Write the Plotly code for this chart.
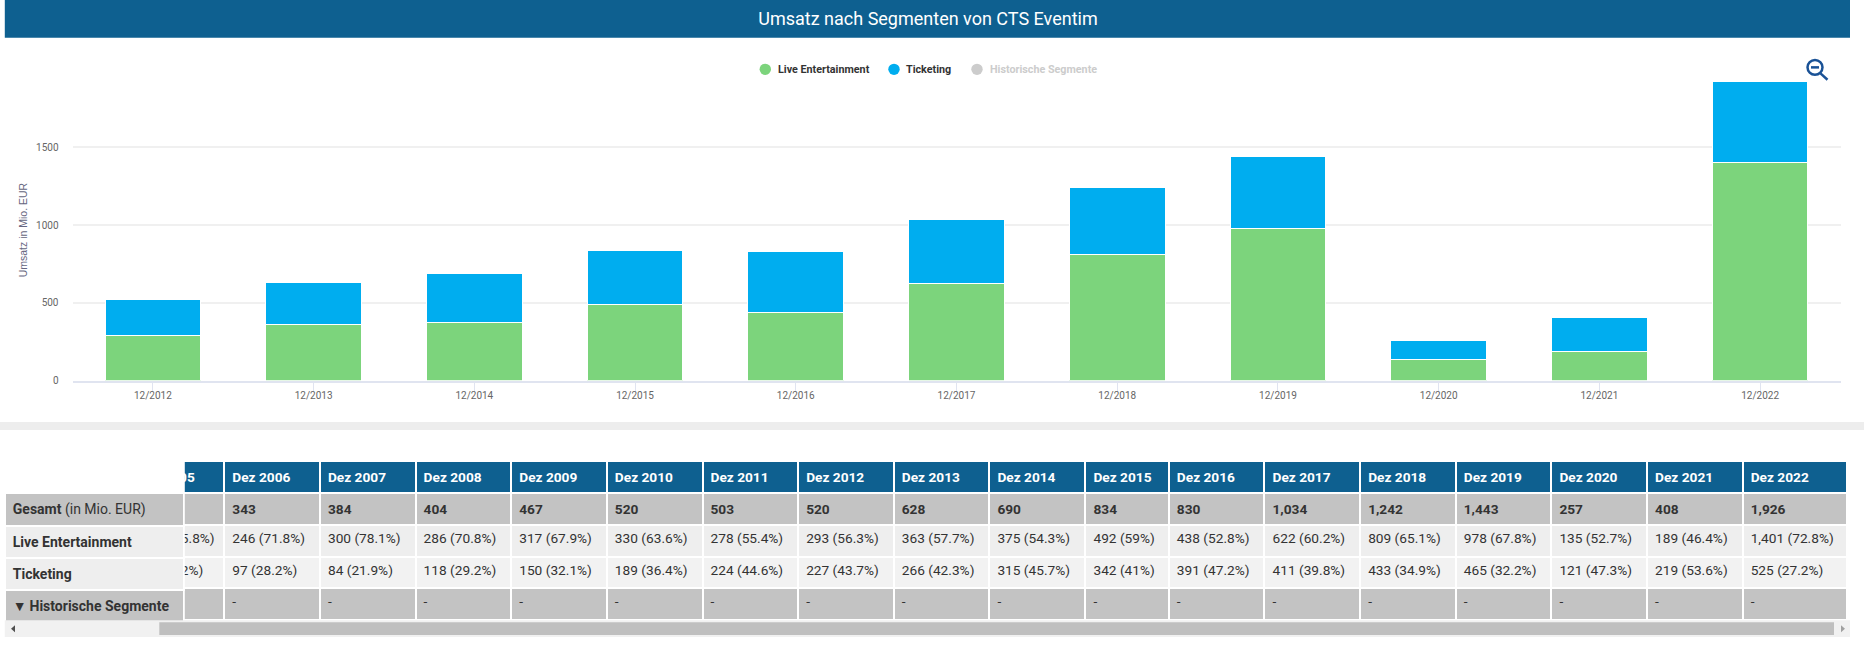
import plotly.graph_objects as go

W, H = 1864, 652

# ---- chart data
periods = ["12/2012", "12/2013", "12/2014", "12/2015", "12/2016", "12/2017",
           "12/2018", "12/2019", "12/2020", "12/2021", "12/2022"]
live_chart = [293, 363, 375, 492, 438, 622, 809, 978, 135, 189, 1401]
ticketing_chart = [227, 266, 315, 342, 391, 411, 433, 465, 121, 219, 525]
y_ticks = [0, 500, 1000, 1500]

# ---- table data (the 2005 column is scrolled mostly out of sight behind the label column)
table_years = ["Dez 2005", "Dez 2006", "Dez 2007", "Dez 2008", "Dez 2009", "Dez 2010", "Dez 2011",
               "Dez 2012", "Dez 2013", "Dez 2014", "Dez 2015", "Dez 2016", "Dez 2017",
               "Dez 2018", "Dez 2019", "Dez 2020", "Dez 2021", "Dez 2022"]
table_total = ["", "343", "384", "404", "467", "520", "503", "520", "628", "690", "834",
               "830", "1,034", "1,242", "1,443", "257", "408", "1,926"]
table_live = ["\u00a0" * 13 + "5.8%)", "246 (71.8%)", "300 (78.1%)", "286 (70.8%)", "317 (67.9%)", "330 (63.6%)",
              "278 (55.4%)", "293 (56.3%)", "363 (57.7%)", "375 (54.3%)", "492 (59%)",
              "438 (52.8%)", "622 (60.2%)", "809 (65.1%)", "978 (67.8%)", "135 (52.7%)",
              "189 (46.4%)", "1,401 (72.8%)"]
table_ticketing = ["\u00a0" * 13 + "2%)", "97 (28.2%)", "84 (21.9%)", "118 (29.2%)", "150 (32.1%)", "189 (36.4%)",
                   "224 (44.6%)", "227 (43.7%)", "266 (42.3%)", "315 (45.7%)", "342 (41%)",
                   "391 (47.2%)", "411 (39.8%)", "433 (34.9%)", "465 (32.2%)", "121 (47.3%)",
                   "219 (53.6%)", "525 (27.2%)"]
table_hist = [""] + ["-"] * 17
row_labels = ["<b>Gesamt</b> (in Mio. EUR)", "<b>Live Entertainment</b>", "<b>Ticketing</b>",
              "<b>▼\u2009Historische Segmente</b>"]

# column widths in the scrolled table
col_widths = [95.6, 95.6, 95.6, 95.6, 95.6, 95.6, 95.6, 95.6, 95.6, 96, 83.4, 95.6,
              95.6, 95.6, 95.6, 95.6, 95.6, 104]

BLUE_HDR = "#0e6090"
GREEN = "#7cd47c"
SKY = "#00adef"
GREY_CELL = "#c3c3c3"
TXT = "#333333"
TABLE_FONT = 13.7
TABLE_TOP = 465.5
ROW = 31.5


def X(p):
    return p / W


def Y(p):
    return 1 - p / H


def nb(s):
    return s.replace(" ", "\u00a0")


fig = go.Figure()
fig.add_bar(name="Live Entertainment", x=periods, y=live_chart, marker=dict(color=GREEN, line=dict(color="white", width=1)), showlegend=False)
fig.add_bar(name="Ticketing", x=periods, y=ticketing_chart, marker=dict(color=SKY, line=dict(color="white", width=1)), showlegend=False)

# scrolled table
hdr_vals = [f"<b>{nb(y)}</b>" for y in table_years]
cols = []
for i in range(len(table_years)):
    total = f"<b>{table_total[i]}</b>" if table_total[i] else ""
    cols.append([total, nb(table_live[i]), nb(table_ticketing[i]), table_hist[i]])
row_fill = [GREY_CELL, "#eeeeee", "#f2f2f2", GREY_CELL]
fig.add_table(
    domain=dict(x=[X(128.7), X(1847)], y=[Y(TABLE_TOP + 5 * ROW + 8), Y(TABLE_TOP)]),
    columnwidth=col_widths,
    header=dict(values=hdr_vals, height=ROW, align="left",
                fill=dict(color=BLUE_HDR),
                line=dict(color="white", width=2),
                font=dict(family="Roboto", size=TABLE_FONT, color="white")),
    cells=dict(values=cols, height=ROW, align="left",
               fill=dict(color=[row_fill] * len(cols)),
               line=dict(color="white", width=2),
               font=dict(family="Roboto", size=TABLE_FONT, color=TXT)),
)
# fixed label column on top of it
fig.add_table(
    domain=dict(x=[X(4.8), X(184.5)], y=[Y(TABLE_TOP + 5 * ROW + 8), Y(TABLE_TOP)]),
    header=dict(values=[""], height=ROW, align="left", fill=dict(color="white"),
                line=dict(color="white", width=2),
                font=dict(family="Roboto", size=TABLE_FONT, color="white")),
    cells=dict(values=[[nb(s) for s in row_labels]], height=ROW, align="left",
               fill=dict(color=[["#c3c3c3", "#eeeeee", "#eeeeee", "#c3c3c3"]]),
               line=dict(color="white", width=2),
               font=dict(family="Roboto", size=14, color=TXT)),
)

shapes = [
    dict(type="rect", xref="paper", yref="paper", x0=X(4.8), x1=X(1850), y0=Y(38), y1=Y(0),
         fillcolor=BLUE_HDR, line_width=0, layer="below"),
    dict(type="rect", xref="paper", yref="paper", x0=0, x1=1, y0=Y(434), y1=Y(426),
         fillcolor="#ededed", line_width=0, layer="below"),
    # horizontal scrollbar
    dict(type="rect", xref="paper", yref="paper", x0=X(4.8), x1=X(1850), y0=Y(643), y1=Y(626),
         fillcolor="#f1f1f1", line_width=0),
    dict(type="rect", xref="paper", yref="paper", x0=X(159.3), x1=X(1834), y0=Y(641), y1=Y(628),
         fillcolor="#bfbfbf", line_width=0),
    dict(type="path", xref="paper", yref="paper", fillcolor="#505050", line_width=0,
         path=f"M {X(11)} {Y(634.5)} L {X(15)} {Y(631)} L {X(15)} {Y(638)} Z"),
    dict(type="path", xref="paper", yref="paper", fillcolor="#a0a0a0", line_width=0,
         path=f"M {X(1845)} {Y(634.5)} L {X(1841)} {Y(631)} L {X(1841)} {Y(638)} Z"),
    # zoom icon
    dict(type="circle", xref="paper", yref="paper", x0=X(1807.5), x1=X(1822.5), y0=Y(75.5), y1=Y(60.5),
         line=dict(color="#1a5296", width=2.5), fillcolor="rgba(0,0,0,0)"),
    dict(type="line", xref="paper", yref="paper", x0=X(1820.5), x1=X(1827.5), y0=Y(74), y1=Y(80.5),
         line=dict(color="#1a5296", width=2.5)),
    dict(type="line", xref="paper", yref="paper", x0=X(1811), x1=X(1819), y0=Y(68), y1=Y(68),
         line=dict(color="#1a5296", width=2.5)),
]

annotations = []
legend_items = [("Live Entertainment", GREEN, 765.3, 776, TXT),
                ("Ticketing", SKY, 894, 904, TXT),
                ("Historische Segmente", "#cccccc", 977, 988, "#cccccc")]
for name, col, cx, tx, tc in legend_items:
    shapes.append(dict(type="circle", xref="paper", yref="paper", x0=X(cx - 5.7), x1=X(cx + 5.7),
                       y0=Y(70 + 5.7), y1=Y(70 - 5.7), fillcolor=col, line_width=0))
    annotations.append(dict(xref="paper", yref="paper", x=X(tx), y=Y(70), xanchor="left", yanchor="middle",
                            text=f"<b>{name}</b>", showarrow=False,
                            font=dict(family="Roboto", size=10.75, color=tc)))

fig.update_layout(
    width=W, height=H, autosize=False,
    margin=dict(l=0, r=0, t=0, b=0, pad=0),
    paper_bgcolor="white", plot_bgcolor="white",
    barmode="stack", bargap=0.405,
    showlegend=False,
    title=dict(text="Umsatz nach Segmenten von CTS Eventim", x=928 / W, xanchor="center",
               y=Y(18.5), yanchor="middle", font=dict(family="Roboto", size=18, color="white")),
    xaxis=dict(domain=[X(72.5), X(1840.5)], type="category", range=[-0.5, 10.5],
               showgrid=False, showline=True, linecolor="#e0e4f0", linewidth=2,
               ticks="outside", ticklen=9, tickcolor="#e0e4f0", tickwidth=1,
               tickfont=dict(family="Roboto", size=10, color="#666666"), ticklabelstandoff=-5),
    yaxis=dict(domain=[Y(384.2), Y(62.5)], range=[0, 321.7 / 0.157], tickmode="array", tickvals=y_ticks,
               showgrid=True, gridcolor="#f0f0f0", gridwidth=1.5, zeroline=False, showline=False,
               tickfont=dict(family="Roboto", size=10, color="#666666"), ticklabelstandoff=13,
               title=None),
    shapes=shapes,
    annotations=annotations + [
        dict(xref="paper", yref="paper", x=X(22.5), y=Y(232), textangle=-90, showarrow=False,
             xanchor="center", yanchor="middle", text="Umsatz in Mio. EUR",
             font=dict(family="Liberation Sans", size=10.5, color="#666680")),
    ],
)

fig.write_html("out.html", config=dict(displayModeBar=False),
               post_script="document.body.style.margin='0';document.body.style.overflow='hidden';")
